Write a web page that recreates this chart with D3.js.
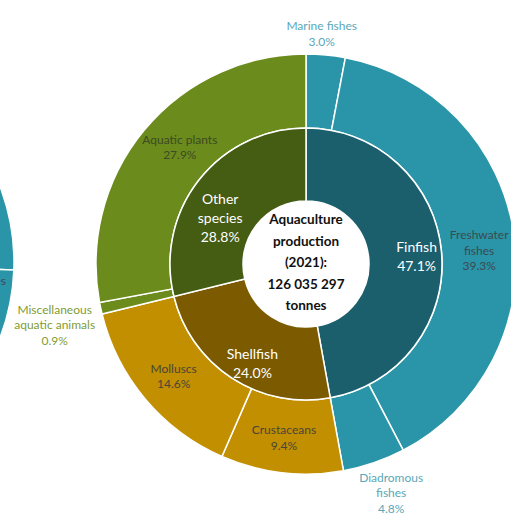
<!DOCTYPE html>
<html>
<head>
<meta charset="utf-8">
<script src="https://cdn.jsdelivr.net/npm/d3@7"></script>
<style>
  body { margin: 0; background: #fff; }
  svg text { font-family: Lato, "Open Sans", sans-serif; }
</style>
</head>
<body>
<svg id="chart" width="511" height="515"></svg>
<script>
// inner ring: groups
var groupNames = ["Finfish", "Shellfish", "Other species"];
var groupValues = [47.1, 24.0, 28.8];
var groupLabels = [["Finfish"], ["Shellfish"], ["Other", "species"]];

// outer ring: species groups, clockwise from the top
var speciesNames = ["Marine fishes", "Freshwater fishes", "Diadromous fishes", "Crustaceans", "Molluscs", "Miscellaneous aquatic animals", "Aquatic plants"];
var speciesValues = [3.0, 39.3, 4.8, 9.4, 14.6, 0.9, 27.9];
var speciesParent = [0, 0, 0, 1, 1, 2, 2];
var speciesLabels = [["Marine fishes"], ["Freshwater", "fishes"], ["Diadromous", "fishes"], ["Crustaceans"], ["Molluscs"], ["Miscellaneous", "aquatic animals"], ["Aquatic plants"]];

// neighbouring chart, only its edge is in view
var leftValues = [25.6, 74.4];

var centerText = ["Aquaculture", "production", "(2021):", "126 035 297", "tonnes"];

var innerColors = ["#1b5f6d", "#7b5a00", "#455c13"];
var outerColors = ["#2a95a8", "#c18f00", "#6b8b1d"];

var svg = d3.select("#chart");
var cx = 306, cy = 264;
var r0 = 63, r1 = 136, r2 = 210;

var pie = d3.pie().sort(null).value(function(d) { return d; });

var g = svg.append("g").attr("transform", "translate(" + cx + "," + cy + ")");

// left partial chart
var gl = svg.append("g").attr("transform", "translate(-197,262)");
gl.selectAll("path")
    .data(pie(leftValues))
    .enter().append("path")
    .attr("d", d3.arc().innerRadius(140).outerRadius(211))
    .attr("fill", outerColors[0])
    .attr("stroke", "#fff")
    .attr("stroke-width", 1.5);
svg.append("text")
    .attr("x", 6).attr("y", 285)
    .attr("text-anchor", "end")
    .attr("font-size", 12)
    .attr("fill", "#3b4a4f")
    .text("fishes");

// outer ring
var outerArcs = pie(speciesValues);
g.selectAll("path.outer")
    .data(outerArcs)
    .enter().append("path")
    .attr("class", "outer")
    .attr("d", d3.arc().innerRadius(r1).outerRadius(r2))
    .attr("fill", function(d, i) { return outerColors[speciesParent[i]]; })
    .attr("stroke", "#fff")
    .attr("stroke-width", 1.5);

// inner ring
var innerArcs = pie(groupValues);
g.selectAll("path.inner")
    .data(innerArcs)
    .enter().append("path")
    .attr("class", "inner")
    .attr("d", d3.arc().innerRadius(r0).outerRadius(r1))
    .attr("fill", function(d, i) { return innerColors[i]; })
    .attr("stroke", "#fff")
    .attr("stroke-width", 1.5);

// outer labels
var outerLabelR = [230, 173, 238, 173, 173, 252, 168];
var outerLabelDx = [-6, 2, 8, -2, 0, -5, 3];
var outerLabelDy = [-1, 12, 4, 2, 1, 8, -9];
var outerTextColor = ["#5ba7b8", "#3b4a4f", "#5ba7b8", "#4a4538", "#4a4538", "#7f9c33", "#3e4a22"];

outerArcs.forEach(function(d, i) {
    var c = d3.arc().innerRadius(outerLabelR[i]).outerRadius(outerLabelR[i]).centroid(d);
    var lines = speciesLabels[i].concat([d3.format(".1f")(speciesValues[i]) + "%"]);
    var t = g.append("text")
        .attr("text-anchor", "middle")
        .attr("font-size", 12)
        .attr("fill", outerTextColor[i]);
    var y0 = c[1] + outerLabelDy[i] - (lines.length - 1) * 15.5 / 2 + 4;
    lines.forEach(function(s, k) {
        t.append("tspan")
            .attr("x", c[0] + outerLabelDx[i])
            .attr("y", y0 + k * 15.5)
            .text(s);
    });
});

// inner labels
var innerLabelR = [106, 104, 104];
var innerLabelDx = [5, 3, -4];
var innerLabelDy = [2, 12, 18];

innerArcs.forEach(function(d, i) {
    var c = d3.arc().innerRadius(innerLabelR[i]).outerRadius(innerLabelR[i]).centroid(d);
    var lines = groupLabels[i].concat([d3.format(".1f")(groupValues[i]) + "%"]);
    var t = g.append("text")
        .attr("text-anchor", "middle")
        .attr("font-size", 14)
        .attr("fill", "#fff");
    var y0 = c[1] + innerLabelDy[i] - (lines.length - 1) * 19 / 2 + 5;
    lines.forEach(function(s, k) {
        t.append("tspan")
            .attr("x", c[0] + innerLabelDx[i])
            .attr("y", y0 + k * 19)
            .text(s);
    });
});

// center
g.append("circle").attr("r", r0 - 1).attr("fill", "#fff");
var ct = g.append("text")
    .attr("text-anchor", "middle")
    .attr("font-size", 13.5)
    .attr("font-weight", "bold")
    .attr("fill", "#111");
centerText.forEach(function(s, k) {
    ct.append("tspan")
        .attr("x", 0)
        .attr("y", -44 + 4 + k * 21.5)
        .text(s);
});
</script>
</body>
</html>
